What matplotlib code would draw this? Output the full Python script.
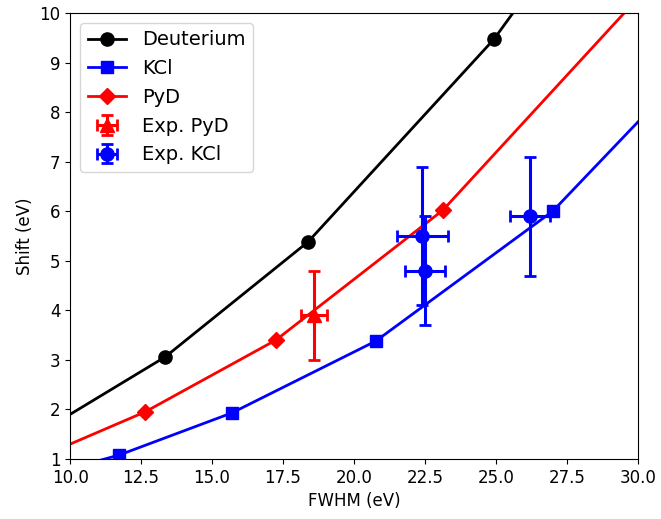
import matplotlib
matplotlib.use("Agg")
import matplotlib.pyplot as plt

# Theory curves (line points; markers only at computed points)
deut_x = [10.0, 13.35, 18.38, 24.93, 25.6]
deut_y = [1.90, 3.06, 5.38, 9.47, 10.0]
kcl_x = [10.9, 11.73, 15.70, 20.77, 27.0, 30.0]
kcl_y = [0.95, 1.08, 1.93, 3.38, 6.0, 7.8]
pyd_x = [10.0, 12.64, 17.25, 23.13, 29.6]
pyd_y = [1.30, 1.95, 3.40, 6.02, 10.05]

# Experimental points
exp_pyd_x = [18.6]
exp_pyd_y = [3.9]
exp_pyd_xerr = [0.45]
exp_pyd_yerr = [0.9]

exp_kcl_x = [22.4, 22.5, 26.2]
exp_kcl_y = [5.5, 4.8, 5.9]
exp_kcl_xerr = [0.9, 0.7, 0.7]
exp_kcl_yerr = [1.4, 1.1, 1.2]

fig = plt.figure(figsize=(6.61, 5.19), dpi=100)
ax = fig.add_axes([0.106, 0.1156, 0.859, 0.8594])

ax.plot(deut_x, deut_y, color='black', marker='o', markersize=9.5, lw=2,
        markevery=[1, 2, 3], label='Deuterium')
ax.plot(kcl_x, kcl_y, color='blue', marker='s', markersize=9, lw=2,
        markevery=[1, 2, 3, 4], label='KCl')
ax.plot(pyd_x, pyd_y, color='red', marker='D', markersize=8, lw=2,
        markevery=[1, 2, 3], label='PyD')
ax.errorbar(exp_pyd_x, exp_pyd_y, xerr=exp_pyd_xerr, yerr=exp_pyd_yerr,
            fmt='^', color='red', markersize=9.5, capsize=4, elinewidth=2.2,
            capthick=2, label='Exp. PyD')
ax.errorbar(exp_kcl_x, exp_kcl_y, xerr=exp_kcl_xerr, yerr=exp_kcl_yerr,
            fmt='o', color='blue', markersize=9.5, capsize=4, elinewidth=2.2,
            capthick=2, label='Exp. KCl')

ax.set_xlim(10, 30)
ax.set_ylim(1, 10)
ax.set_xticks([10, 12.5, 15, 17.5, 20, 22.5, 25, 27.5, 30])
ax.set_yticks(range(1, 11))
ax.tick_params(labelsize=12)
ax.set_xlabel('FWHM (eV)', fontsize=12)
ax.set_ylabel('Shift (eV)', fontsize=12)
ax.legend(loc='upper left', fontsize=14)

fig.savefig('out.png', dpi=100)
